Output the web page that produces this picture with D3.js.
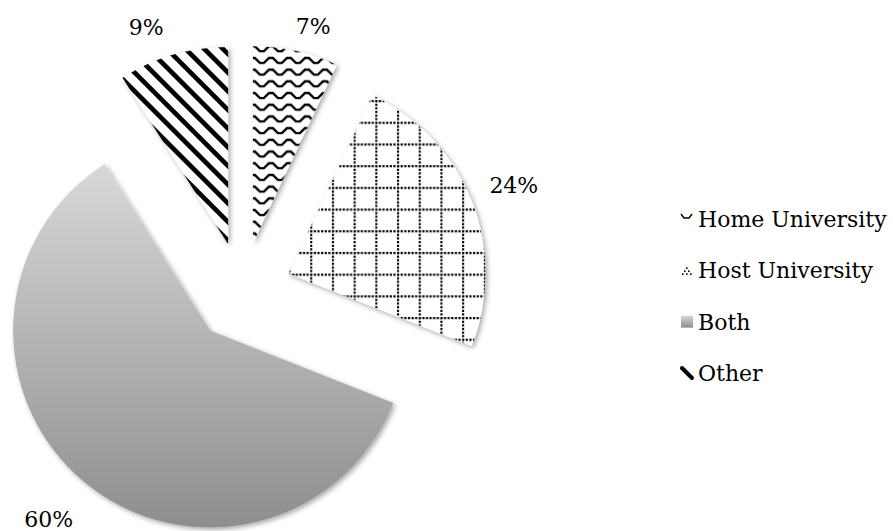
<!DOCTYPE html>
<meta charset="utf-8">
<style>
body { margin: 0; background: #fff; }
text { font-family: "DejaVu Serif", serif; font-size: 22px; fill: #000; }
</style>
<svg width="893" height="531"></svg>
<script src="https://d3js.org/d3.v7.min.js"></script>
<script>
var categories = ["Home University", "Host University", "Both", "Other"];
var values = [7, 24, 60, 9];
var valueLabels = ["7%", "24%", "60%", "9%"];
var fills = ["url(#wave)", "url(#grid)", "url(#grey)", "url(#stripes)"];

var svg = d3.select("svg"),
  cx = 242, cy = 292,
  radius = 197,
  explode = 50;

// label placement tweaks (degrees / px), one per slice
var labelTurn = [1.9, -1, -0.7, -3.1],
  labelPad = [19.7, 23, 36.5, 25.7];

var defs = svg.append("defs");

// soft shadow like the office charts
defs.append("filter").attr("id", "shadow")
  .attr("x", "-10%").attr("y", "-10%").attr("width", "130%").attr("height", "130%")
  .append("feDropShadow")
  .attr("dx", 2).attr("dy", 2).attr("stdDeviation", 2.5)
  .attr("flood-color", "#000").attr("flood-opacity", 0.35);

// wave pattern
var wave = defs.append("pattern").attr("id", "wave")
  .attr("patternUnits", "userSpaceOnUse").attr("width", 18).attr("height", 11.7);
wave.append("rect").attr("width", 18).attr("height", 11.7).attr("fill", "#fff");
wave.append("path").attr("d", "M-2,2 L2,2 L7,7 L11,7 L16,2 L20,2")
  .attr("fill", "none").attr("stroke", "#000").attr("stroke-width", 2.3)
  .attr("stroke-linejoin", "miter");

// dotted grid
var gs = 21.7;
var grid = defs.append("pattern").attr("id", "grid")
  .attr("patternUnits", "userSpaceOnUse").attr("width", gs).attr("height", gs);
grid.append("rect").attr("width", gs).attr("height", gs).attr("fill", "#fff");
grid.append("line").attr("x1", 0).attr("x2", gs).attr("y1", 1).attr("y2", 1)
  .attr("stroke", "#000").attr("stroke-width", 2.2).attr("stroke-dasharray", "2.2," + (gs / 6 - 2.2));
grid.append("line").attr("x1", 1).attr("x2", 1).attr("y1", 0).attr("y2", gs)
  .attr("stroke", "#000").attr("stroke-width", 2.2).attr("stroke-dasharray", "2.2," + (gs / 6 - 2.2));

// wide diagonal stripes
var stripes = defs.append("pattern").attr("id", "stripes")
  .attr("patternUnits", "userSpaceOnUse").attr("width", 13.2).attr("height", 13.2)
  .attr("patternTransform", "rotate(-45)");
stripes.append("rect").attr("width", 13.2).attr("height", 13.2).attr("fill", "#fff");
stripes.append("rect").attr("width", 4.7).attr("height", 13.2).attr("fill", "#000");

// grey gradient
var grey = defs.append("linearGradient").attr("id", "grey")
  .attr("x1", 0).attr("y1", 0).attr("x2", 0).attr("y2", 1);
grey.append("stop").attr("offset", 0).attr("stop-color", "#d8d8d8");
grey.append("stop").attr("offset", 1).attr("stop-color", "#8e8e8e");

var pie = d3.pie().sort(null).value(function(d) { return d; });
var arcs = pie(values);
var arc = d3.arc().innerRadius(0).outerRadius(radius);

function mid(d) { return (d.startAngle + d.endAngle) / 2; }

var g = svg.append("g")
  .attr("transform", "translate(" + cx + "," + cy + ")");

g.selectAll("path.slice").data(arcs).enter().append("path")
  .attr("class", "slice")
  .attr("transform", function(d) {
    var a = mid(d);
    return "translate(" + explode * Math.sin(a) + "," + (-explode * Math.cos(a)) + ")";
  })
  .attr("d", arc)
  .attr("fill", function(d, i) { return fills[i]; })
  .attr("filter", "url(#shadow)");

// percentage labels just outside each slice
g.selectAll("text.pct").data(arcs).enter().append("text")
  .attr("class", "pct")
  .attr("text-anchor", "middle")
  .text(function(d, i) { return valueLabels[i]; })
  .each(function(d, i) {
    var a = mid(d) + labelTurn[i] * Math.PI / 180,
      ux = Math.sin(a), uy = -Math.cos(a),
      w = this.getComputedTextLength(), h = 16,
      r = radius + explode + labelPad[i],
      x = ux * r + ux * w / 2,
      y = uy * r + uy * h / 2;
    d3.select(this).attr("x", x).attr("y", y + h / 2);
  });

// legend
var ly = d3.scalePoint().domain(categories).range([219, 373]);
var legend = svg.append("g").attr("transform", "translate(681,0)");

var row = legend.selectAll("g").data(categories).enter().append("g")
  .attr("transform", function(d) { return "translate(0," + (ly(d) - 6) + ")"; });

row.each(function(d, i) {
  var s = d3.select(this);
  if (i == 0) {
    s.append("path").attr("d", "M0,1 L3,5 L8,5 L11,1")
      .attr("fill", "none").attr("stroke", "#000").attr("stroke-width", 1.4);
  } else if (i == 1) {
    [[5, 3], [3, 6], [7, 6], [1, 9], [5, 9], [9, 9]].forEach(function(p) {
      s.append("rect").attr("x", p[0]).attr("y", p[1]).attr("width", 1.6).attr("height", 1.6).attr("fill", "#000");
    });
  } else if (i == 2) {
    s.append("rect").attr("width", 12).attr("height", 12).attr("fill", "url(#grey)");
  } else {
    s.append("line").attr("x1", 1).attr("y1", 1).attr("x2", 11).attr("y2", 11)
      .attr("stroke", "#000").attr("stroke-width", 4).attr("stroke-linecap", "round");
  }
});

row.append("text")
  .attr("x", 17)
  .attr("y", 14)
  .text(function(d) { return d; });
</script>
